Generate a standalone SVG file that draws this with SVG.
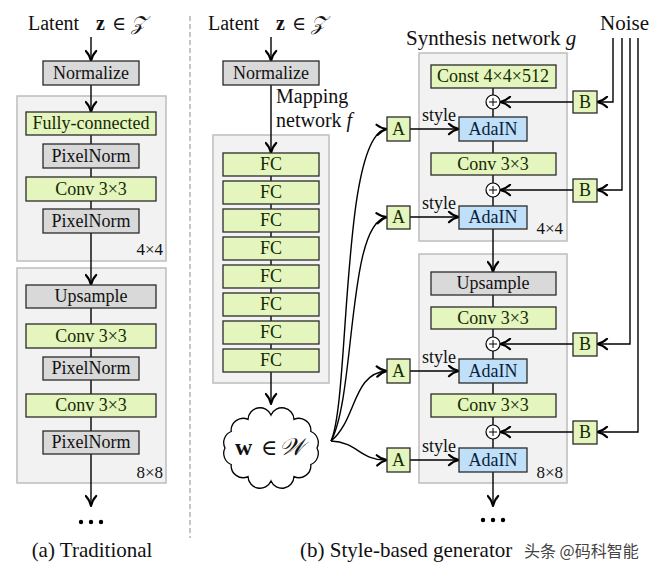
<svg xmlns="http://www.w3.org/2000/svg" width="658" height="577" viewBox="0 0 658 577">
<defs>
<marker id="ar" viewBox="0 0 12 12" refX="10.8" refY="6" markerWidth="13" markerHeight="13" markerUnits="userSpaceOnUse" orient="auto">
<path d="M1.5,1.2 C4,3.6 7.5,5.3 10.8,6 C7.5,6.7 4,8.4 1.5,10.8" fill="none" stroke="#000" stroke-width="1.9" stroke-linecap="round" stroke-linejoin="round"/>
</marker>
<style>
text{font-family:"Liberation Serif","DejaVu Serif",serif;fill:#111}
.b{font-size:18px;text-anchor:middle}
.g rect{fill:#e4f5bd;stroke:#2a2a2a;stroke-width:1.3}
.g text{fill:#142a05}
.n rect{fill:#d9d9d9;stroke:#2a2a2a;stroke-width:1.3}
.a rect{fill:#bfe0f8;stroke:#2a2a2a;stroke-width:1.3}
.a text{fill:#0b1d3a}
.o{fill:#f2f2f2;stroke:#bdbdbd;stroke-width:1.5}
.c path,.c line,.c polyline{fill:none;stroke:#000;stroke-width:1.4}
.e{marker-end:url(#ar)}
.p circle{fill:#fff;stroke:#000;stroke-width:1.2}
.p line{stroke:#000;stroke-width:1}
.lbl{font-size:17px;text-anchor:end}
.t{font-size:20px}
</style>
</defs>
<rect width="658" height="577" fill="#fff"/>

<!-- divider -->
<line x1="190" y1="16" x2="190" y2="538" stroke="#a0a0a0" stroke-width="1.2" stroke-dasharray="5,3"/>

<!-- outer group boxes -->
<g id="block-a-4x4"><rect class="o" x="17" y="96" width="149" height="165"/><text class="lbl" x="163" y="255">4×4</text></g>
<g id="block-a-8x8"><rect class="o" x="17" y="268" width="149" height="215"/><text class="lbl" x="163" y="478">8×8</text></g>
<g id="mapping-box"><rect class="o" x="213" y="135" width="116" height="248"/></g>
<g id="block-b-4x4"><rect class="o" x="419" y="53" width="148" height="188"/><text class="lbl" x="563" y="234">4×4</text></g>
<g id="block-b-8x8"><rect class="o" x="419" y="254" width="148" height="229"/><text class="lbl" x="563" y="478">8×8</text></g>

<!-- connectors -->
<g id="connectors" class="c">
<!-- (a) -->
<line class="e" x1="91" y1="37" x2="91" y2="61"/>
<line class="e" x1="91" y1="85" x2="91" y2="112"/>
<line x1="91" y1="135" x2="91" y2="144"/>
<line x1="91" y1="168" x2="91" y2="177"/>
<line x1="91" y1="201" x2="91" y2="209"/>
<line class="e" x1="91" y1="233" x2="91" y2="285"/>
<line x1="91" y1="308" x2="91" y2="324"/>
<line x1="91" y1="348" x2="91" y2="357"/>
<line x1="91" y1="380" x2="91" y2="394"/>
<line x1="91" y1="417" x2="91" y2="431"/>
<line class="e" x1="91" y1="454" x2="91" y2="506"/>
<!-- mapping -->
<line class="e" x1="271" y1="37" x2="271" y2="61"/>
<line class="e" x1="271" y1="85" x2="271" y2="153"/>
<line x1="271" y1="176" x2="271" y2="181"/>
<line x1="271" y1="204" x2="271" y2="209"/>
<line x1="271" y1="232" x2="271" y2="237"/>
<line x1="271" y1="260" x2="271" y2="265"/>
<line x1="271" y1="288" x2="271" y2="293"/>
<line x1="271" y1="316" x2="271" y2="321"/>
<line x1="271" y1="344" x2="271" y2="349"/>
<line class="e" x1="271" y1="372" x2="271" y2="404"/>
<!-- w to A -->
<path class="e" d="M331,441 C350,400 341,133 387,129"/>
<path class="e" d="M331,441 C356,395 347,222 387,217"/>
<path class="e" d="M331,441 C357,420 352,373 387,371"/>
<path class="e" d="M331,441 C358,442 360,461 387,460"/>
<!-- A to AdaIN -->
<line class="e" x1="410" y1="129" x2="459" y2="129"/>
<line class="e" x1="410" y1="217" x2="459" y2="217"/>
<line class="e" x1="410" y1="371" x2="459" y2="371"/>
<line class="e" x1="410" y1="460" x2="459" y2="460"/>
<!-- synthesis trunk -->
<line x1="493" y1="88" x2="493" y2="95"/>
<line x1="493" y1="109" x2="493" y2="117"/>
<line x1="493" y1="141" x2="493" y2="153"/>
<line x1="493" y1="175" x2="493" y2="183"/>
<line x1="493" y1="197" x2="493" y2="206"/>
<line class="e" x1="493" y1="229" x2="493" y2="272"/>
<line x1="493" y1="295" x2="493" y2="307"/>
<line x1="493" y1="329" x2="493" y2="337"/>
<line x1="493" y1="351" x2="493" y2="359"/>
<line x1="493" y1="383" x2="493" y2="394"/>
<line x1="493" y1="417" x2="493" y2="425"/>
<line x1="493" y1="439" x2="493" y2="448"/>
<line class="e" x1="493" y1="472" x2="493" y2="506"/>
<!-- B to plus -->
<line class="e" x1="573" y1="102" x2="500" y2="102"/>
<line class="e" x1="573" y1="190" x2="500" y2="190"/>
<line class="e" x1="573" y1="344" x2="500" y2="344"/>
<line class="e" x1="573" y1="432" x2="500" y2="432"/>
<!-- noise lines -->
<polyline class="e" points="613,38 613,102 597,102"/>
<polyline class="e" points="622,38 622,190 597,190"/>
<polyline class="e" points="630,38 630,344 597,344"/>
<polyline class="e" points="638,38 638,432 597,432"/>
</g>

<!-- (a) traditional nodes -->
<text class="t" x="28" y="30">Latent</text>
<text x="96" y="30" style="font-size:20px;font-weight:bold">z</text>
<text x="112" y="30" style="font-size:19px">∈</text>
<text x="131" y="30" style="font-size:20px;font-style:italic">𝒵</text>

<g id="a-normalize" class="n"><rect x="43" y="61" width="96" height="24"/><text class="b" x="91" y="79">Normalize</text></g>
<g id="a-fc" class="g"><rect x="26" y="112" width="130" height="23"/><text class="b" x="91" y="129">Fully-connected</text></g>
<g id="a-pn1" class="n"><rect x="43" y="144" width="96" height="24"/><text class="b" x="91" y="162">PixelNorm</text></g>
<g id="a-conv1" class="g"><rect x="26" y="177" width="130" height="24"/><text class="b" x="91" y="195">Conv 3×3</text></g>
<g id="a-pn2" class="n"><rect x="43" y="209" width="96" height="24"/><text class="b" x="91" y="227">PixelNorm</text></g>
<g id="a-upsample" class="n"><rect x="26" y="285" width="130" height="23"/><text class="b" x="91" y="302">Upsample</text></g>
<g id="a-conv2" class="g"><rect x="26" y="324" width="130" height="24"/><text class="b" x="91" y="342">Conv 3×3</text></g>
<g id="a-pn3" class="n"><rect x="43" y="357" width="96" height="23"/><text class="b" x="91" y="374">PixelNorm</text></g>
<g id="a-conv3" class="g"><rect x="26" y="394" width="130" height="23"/><text class="b" x="91" y="411">Conv 3×3</text></g>
<g id="a-pn4" class="n"><rect x="43" y="431" width="96" height="23"/><text class="b" x="91" y="448">PixelNorm</text></g>
<g id="a-dots" fill="#000"><circle cx="81" cy="522" r="2.2"/><circle cx="91" cy="522" r="2.2"/><circle cx="101" cy="522" r="2.2"/></g>
<text x="92" y="557" style="font-size:21px;text-anchor:middle">(a) Traditional</text>

<!-- (b) mapping -->
<text class="t" x="208" y="30">Latent</text>
<text x="276" y="30" style="font-size:20px;font-weight:bold">z</text>
<text x="292" y="30" style="font-size:19px">∈</text>
<text x="311" y="30" style="font-size:20px;font-style:italic">𝒵</text>
<g id="b-normalize" class="n"><rect x="223" y="61" width="96" height="24"/><text class="b" x="271" y="79">Normalize</text></g>
<text class="t" x="276" y="103">Mapping</text>
<text class="t" x="276" y="127">network <tspan font-style="italic">f</tspan></text>
<g id="fc1" class="g"><rect x="223" y="153" width="96" height="23"/><text class="b" x="271" y="170">FC</text></g>
<g id="fc2" class="g"><rect x="223" y="181" width="96" height="23"/><text class="b" x="271" y="198">FC</text></g>
<g id="fc3" class="g"><rect x="223" y="209" width="96" height="23"/><text class="b" x="271" y="226">FC</text></g>
<g id="fc4" class="g"><rect x="223" y="237" width="96" height="23"/><text class="b" x="271" y="254">FC</text></g>
<g id="fc5" class="g"><rect x="223" y="265" width="96" height="23"/><text class="b" x="271" y="282">FC</text></g>
<g id="fc6" class="g"><rect x="223" y="293" width="96" height="23"/><text class="b" x="271" y="310">FC</text></g>
<g id="fc7" class="g"><rect x="223" y="321" width="96" height="23"/><text class="b" x="271" y="338">FC</text></g>
<g id="fc8" class="g"><rect x="223" y="349" width="96" height="23"/><text class="b" x="271" y="366">FC</text></g>

<g id="w-cloud">
<path d="M317,448 A12,12 0 0 1 310.8,464.5 A12,12 0 0 1 294,476.6 A12,12 0 0 1 271,481 A12,12 0 0 1 248,476.6 A12,12 0 0 1 231.2,464.5 A12,12 0 0 1 225,448 A12,12 0 0 1 231.2,431.5 A12,12 0 0 1 248,419.4 A12,12 0 0 1 271,415 A12,12 0 0 1 294,419.4 A12,12 0 0 1 310.8,431.5 A12,12 0 0 1 317,448 Z" fill="#fff" stroke="#000" stroke-width="1.3"/>
<text x="235" y="455" style="font-size:24px;font-weight:bold">w</text>
<text x="261" y="455" style="font-size:22px">∈</text>
<text x="279" y="455" style="font-size:24px;font-style:italic">𝒲</text>
</g>

<!-- (b) synthesis -->
<text x="406" y="45" style="font-size:21px">Synthesis network <tspan font-style="italic">g</tspan></text>
<text x="600" y="30" style="font-size:21px">Noise</text>

<g id="const" class="g"><rect x="431" y="65" width="125" height="23"/><text class="b" x="493" y="82">Const 4×4×512</text></g>
<g id="plus1" class="p"><circle cx="493" cy="102" r="7"/><line x1="489" y1="102" x2="497" y2="102"/><line x1="493" y1="98" x2="493" y2="106"/></g>
<g id="adain1" class="a"><rect x="459" y="117" width="68" height="24"/><text class="b" x="493" y="135">AdaIN</text></g>
<g id="conv-b1" class="g"><rect x="431" y="153" width="125" height="22"/><text class="b" x="493" y="170">Conv 3×3</text></g>
<g id="plus2" class="p"><circle cx="493" cy="190" r="7"/><line x1="489" y1="190" x2="497" y2="190"/><line x1="493" y1="186" x2="493" y2="194"/></g>
<g id="adain2" class="a"><rect x="459" y="206" width="68" height="23"/><text class="b" x="493" y="223">AdaIN</text></g>

<g id="upsample-b" class="n"><rect x="431" y="272" width="125" height="23"/><text class="b" x="493" y="289">Upsample</text></g>
<g id="conv-b2" class="g"><rect x="431" y="307" width="125" height="22"/><text class="b" x="493" y="324">Conv 3×3</text></g>
<g id="plus3" class="p"><circle cx="493" cy="344" r="7"/><line x1="489" y1="344" x2="497" y2="344"/><line x1="493" y1="340" x2="493" y2="348"/></g>
<g id="adain3" class="a"><rect x="459" y="359" width="68" height="24"/><text class="b" x="493" y="377">AdaIN</text></g>
<g id="conv-b3" class="g"><rect x="431" y="394" width="125" height="23"/><text class="b" x="493" y="411">Conv 3×3</text></g>
<g id="plus4" class="p"><circle cx="493" cy="432" r="7"/><line x1="489" y1="432" x2="497" y2="432"/><line x1="493" y1="428" x2="493" y2="436"/></g>
<g id="adain4" class="a"><rect x="459" y="448" width="68" height="24"/><text class="b" x="493" y="466">AdaIN</text></g>

<g id="A1" class="g"><rect x="387" y="117" width="23" height="24"/><text class="b" x="398.5" y="135">A</text></g>
<g id="A2" class="g"><rect x="387" y="206" width="23" height="23"/><text class="b" x="398.5" y="223">A</text></g>
<g id="A3" class="g"><rect x="387" y="359" width="23" height="24"/><text class="b" x="398.5" y="377">A</text></g>
<g id="A4" class="g"><rect x="387" y="448" width="23" height="24"/><text class="b" x="398.5" y="466">A</text></g>
<text x="422" y="121" style="font-size:18px">style</text>
<text x="422" y="209" style="font-size:18px">style</text>
<text x="422" y="363" style="font-size:18px">style</text>
<text x="422" y="452" style="font-size:18px">style</text>

<g id="B1" class="g"><rect x="573" y="91" width="24" height="22"/><text class="b" x="585" y="108">B</text></g>
<g id="B2" class="g"><rect x="573" y="179" width="24" height="23"/><text class="b" x="585" y="196">B</text></g>
<g id="B3" class="g"><rect x="573" y="333" width="24" height="23"/><text class="b" x="585" y="350">B</text></g>
<g id="B4" class="g"><rect x="573" y="421" width="24" height="23"/><text class="b" x="585" y="438">B</text></g>

<g id="b-dots" fill="#000"><circle cx="483" cy="520" r="2.2"/><circle cx="493" cy="520" r="2.2"/><circle cx="503" cy="520" r="2.2"/></g>
<text x="300" y="557" style="font-size:21px">(b) Style-based generator</text>
<text x="524" y="557" style="font-size:16px;fill:#444;font-family:'Noto Sans CJK SC','Liberation Sans',sans-serif">头条 @码科智能</text>
</svg>
